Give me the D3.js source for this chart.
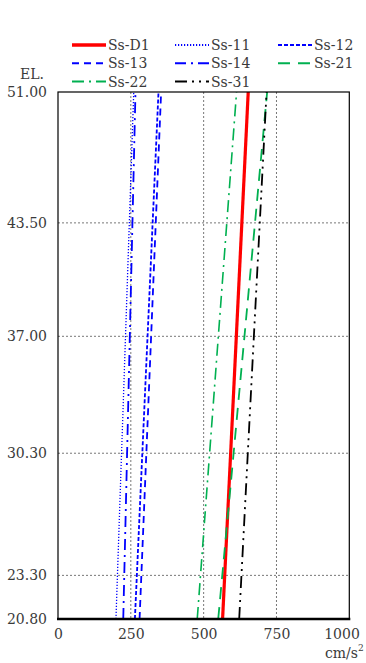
<!DOCTYPE html>
<html>
<head>
<meta charset="utf-8">
<script src="https://cdn.jsdelivr.net/npm/d3@7"></script>
<style>
html,body{margin:0;padding:0;background:#fff;}
svg{display:block;}
</style>
</head>
<body>
<svg id="chart" width="366" height="663"></svg>
<script>
// Data
const elevations = [20.8, 51.0];
const yTicks = [51.0, 43.5, 37.0, 30.3, 23.3, 20.8];
const xTicks = [0, 250, 500, 750, 1000];
const seriesNames = ["Ss-D1", "Ss-11", "Ss-12", "Ss-13", "Ss-14", "Ss-21", "Ss-22", "Ss-31"];
// acceleration (cm/s2) at elevations [20.8, 51.0]
const ssD1 = [565, 653];
const ss11 = [199, 260];
const ss12 = [264, 345];
const ss13 = [280, 354];
const ss14 = [224, 266];
const ss21 = [550, 718];
const ss22 = [478, 613];
const ss31 = [622, 716];

const values = [ssD1, ss11, ss12, ss13, ss14, ss21, ss22, ss31];
const styles = [
  {color:"#ff0000", width:3.2, dash:null},
  {color:"#0000ff", width:1.3, dash:"1.2,1.8"},
  {color:"#0000ff", width:1.8, dash:"4,2"},
  {color:"#0000ff", width:1.8, dash:"7,5"},
  {color:"#0000ff", width:1.8, dash:"11,5,2,5"},
  {color:"#00b050", width:1.8, dash:"12,8"},
  {color:"#00b050", width:1.6, dash:"12,5,2,5"},
  {color:"#000000", width:1.8, dash:"12,5,2,5,2,5"}
];

const FONT = "DejaVu Serif";
const svg = d3.select("#chart");
const x = d3.scaleLinear().domain([0, 1000]).range([58, 349.3]);
const y = d3.scaleLinear().domain([20.8, 51.0]).range([619, 92]);

// gridlines
const grid = svg.append("g");
grid.selectAll("line.v").data(xTicks.slice(1, -1)).enter().append("line")
  .attr("x1", d => x(d)).attr("x2", d => x(d))
  .attr("y1", y(51)).attr("y2", y(20.8))
  .attr("stroke", "#777").attr("stroke-width", 1).attr("stroke-dasharray", "2,2");
grid.selectAll("line.h").data(yTicks.slice(1, -1)).enter().append("line")
  .attr("y1", d => y(d)).attr("y2", d => y(d))
  .attr("x1", x(0)).attr("x2", x(1000))
  .attr("stroke", "#777").attr("stroke-width", 1).attr("stroke-dasharray", "2,2");

// lines
const line = d3.line().x(d => x(d[0])).y(d => y(d[1]));
values.forEach((v, i) => {
  const pts = v.map((val, j) => [val, elevations[j]]);
  const s = styles[i];
  svg.append("path").datum(pts)
    .attr("d", line)
    .attr("fill", "none")
    .attr("stroke", s.color)
    .attr("stroke-width", s.width)
    .attr("stroke-dasharray", s.dash);
});

// frame
svg.append("rect")
  .attr("x", x(0)).attr("y", y(51))
  .attr("width", x(1000) - x(0)).attr("height", y(20.8) - y(51))
  .attr("fill", "none").attr("stroke", "#000").attr("stroke-width", 1.2);
svg.append("line")
  .attr("x1", x(0) - 1).attr("x2", x(1000) + 1)
  .attr("y1", y(20.8)).attr("y2", y(20.8))
  .attr("stroke", "#000").attr("stroke-width", 2.4);

function styleText(sel, size) {
  sel.attr("font-family", FONT).attr("font-size", size).attr("fill", "#3a3a3a");
}

// axes labels
const yAxis = d3.axisLeft(y).tickValues(yTicks).tickSize(0).tickPadding(11)
  .tickFormat(d3.format(".2f"));
const gy = svg.append("g").attr("transform", `translate(${x(0)},0)`).call(yAxis);
gy.attr("font-family", FONT).attr("font-size", 14);
gy.select(".domain").remove();
gy.selectAll("text").call(styleText, 14);

const xAxis = d3.axisBottom(x).tickValues(xTicks).tickSize(0).tickPadding(10)
  .tickFormat(d3.format("d"));
const gx = svg.append("g").attr("transform", `translate(0,${y(20.8)})`).call(xAxis);
gx.attr("font-family", FONT).attr("font-size", 14);
gx.select(".domain").remove();
gx.selectAll("text").call(styleText, 14);
// keep the last label inside the canvas, as in the reference
gx.selectAll(".tick").filter(d => d === 1000).select("text")
  .attr("text-anchor", "end").attr("x", 10);

svg.append("text").attr("x", 20).attr("y", 79).text("EL.").call(styleText, 14);

const unit = svg.append("text").attr("x", 325).attr("y", 658).call(styleText, 14);
unit.append("tspan").text("cm/s");
unit.append("tspan").attr("dy", -7).attr("font-size", 9).text("2");

// legend
const legCols = [72, 175, 278];
const legRows = [45, 63.3, 81.5];
const leg = svg.append("g");
seriesNames.forEach((name, i) => {
  const cx = legCols[i % 3], cy = legRows[Math.floor(i / 3)];
  const s = styles[i];
  leg.append("line")
    .attr("x1", cx).attr("x2", cx + 34)
    .attr("y1", cy).attr("y2", cy)
    .attr("stroke", s.color).attr("stroke-width", i === 0 ? 3.5 : 2)
    .attr("stroke-dasharray", s.dash);
  leg.append("text").attr("x", cx + 36).attr("y", cy + 5)
    .text(name).call(styleText, 14);
});
</script>
</body>
</html>
